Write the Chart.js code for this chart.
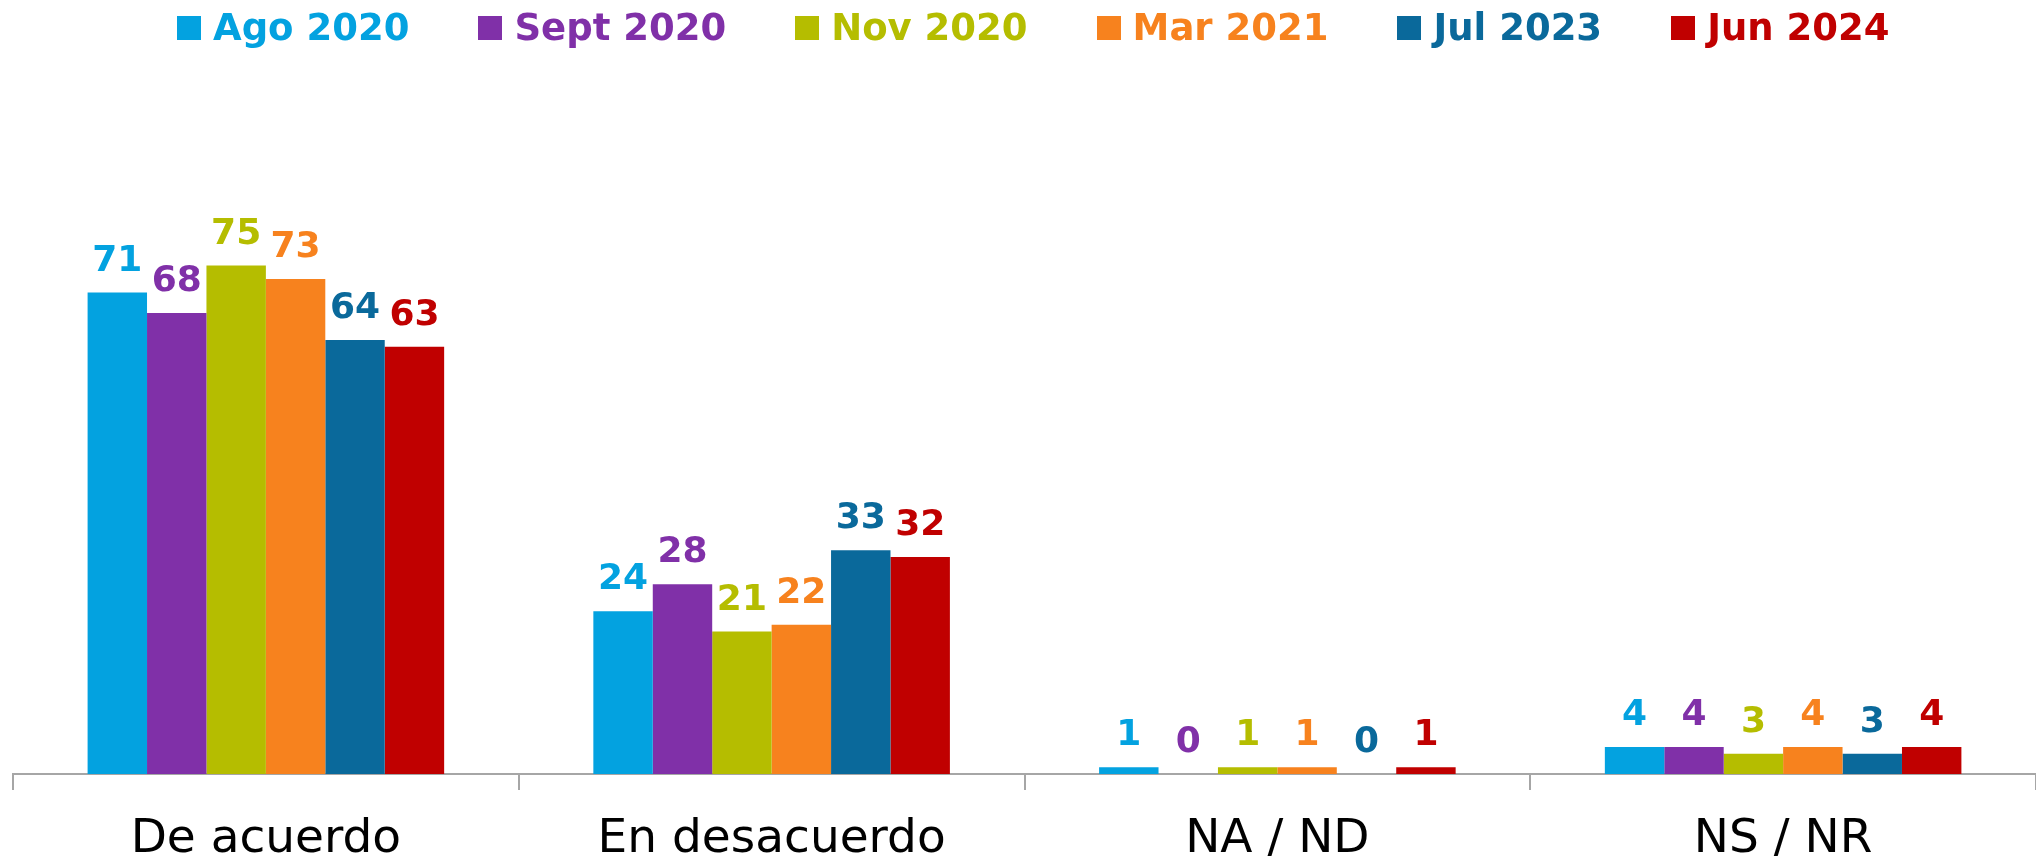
<!DOCTYPE html>
<html>
<head>
<meta charset="utf-8">
<script src="https://cdn.jsdelivr.net/npm/chart.js@4.4.1/dist/chart.umd.min.js"></script>
<style>
  html, body { margin: 0; padding: 0; background: #fff; }
  #wrap { position: relative; width: 2036px; height: 858px; }
  #legend {
    position: absolute; top: 6px; left: 177px;
    display: flex; align-items: center; gap: 69px;
    font-family: "DejaVu Sans", sans-serif; font-weight: bold;
    font-size: 37px; line-height: 43px;
  }
  #legend .item { display: flex; align-items: center; white-space: nowrap; }
  #legend .box { width: 24px; height: 24px; margin-right: 12px; }
</style>
</head>
<body>
<div id="wrap">
  <canvas id="chart"></canvas>
  <div id="legend"></div>
</div>
<script>
const categories = ["De acuerdo", "En desacuerdo", "NA / ND", "NS / NR"];
const seriesNames = ["Ago 2020", "Sept 2020", "Nov 2020", "Mar 2021", "Jul 2023", "Jun 2024"];
const seriesColors = ["#03A2E0", "#8030A8", "#B5BD00", "#F7821E", "#0A699B", "#C00000"];

const ago2020 = [71, 24, 1, 4];
const sept2020 = [68, 28, 0, 4];
const nov2020 = [75, 21, 1, 3];
const mar2021 = [73, 22, 1, 4];
const jul2023 = [64, 33, 0, 3];
const jun2024 = [63, 32, 1, 4];
const seriesValues = [ago2020, sept2020, nov2020, mar2021, jul2023, jun2024];

// value labels above each bar, same colour as the series
const barLabels = {
  id: "barLabels",
  afterDatasetsDraw(chart) {
    const ctx = chart.ctx;
    ctx.save();
    ctx.font = "bold 36px 'DejaVu Sans', sans-serif";
    ctx.textAlign = "center";
    ctx.textBaseline = "alphabetic";
    chart.data.datasets.forEach((ds, i) => {
      chart.getDatasetMeta(i).data.forEach((bar, j) => {
        ctx.fillStyle = ds.backgroundColor;
        ctx.fillText(String(ds.data[j]), bar.x, bar.y - 22);
      });
    });
    ctx.restore();
  }
};

const chart = new Chart(document.getElementById("chart"), {
  type: "bar",
  data: {
    labels: categories,
    datasets: seriesNames.map((name, i) => ({
      label: name,
      data: seriesValues[i],
      backgroundColor: seriesColors[i],
      borderWidth: 0,
      categoryPercentage: 0.705,
      barPercentage: 1.0
    }))
  },
  options: {
    responsive: true, maintainAspectRatio: false,
    animation: false,
    layout: { padding: { top: 96, left: 13, right: 0, bottom: 0 } },
    plugins: {
      legend: { display: false },
      tooltip: { enabled: false }
    },
    scales: {
      x: {
        afterFit: (scale) => { scale.height = 84; },
        border: { color: "#a6a6a6", width: 2 },
        grid: { drawOnChartArea: false, drawTicks: true, tickLength: 16, color: "#a6a6a6", lineWidth: 2 },
        ticks: { color: "#000", padding: 22, font: { family: "DejaVu Sans", size: 47 } }
      },
      y: { display: false, min: 0, max: 100 }
    }
  },
  plugins: [barLabels]
});

// html legend built from the series
const legendEl = document.getElementById("legend");
seriesNames.forEach((name, i) => {
  const item = document.createElement("div");
  item.className = "item";
  item.style.color = seriesColors[i];
  const box = document.createElement("span");
  box.className = "box";
  box.style.background = seriesColors[i];
  item.appendChild(box);
  item.appendChild(document.createTextNode(name));
  legendEl.appendChild(item);
});
</script>
</body>
</html>
